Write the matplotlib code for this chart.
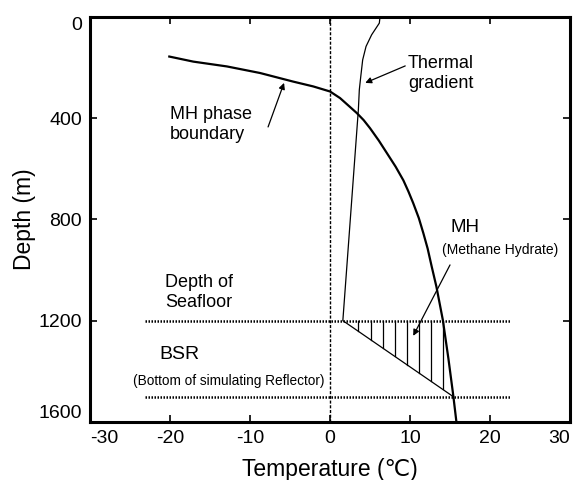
import numpy as np
import matplotlib.pyplot as plt

plt.rcParams['font.family'] = ['Liberation Sans', 'DejaVu Sans']
plt.rcParams['axes.unicode_minus'] = False

# MH phase boundary (temperature degC, depth m)
phase_temp = [-20.1, -17.1, -12.9, -8.75, -4.6, -2.1, 0.0, 1.25, 3.34, 4.2, 5.0, 6.1, 7.08,
              8.2, 9.17, 9.8, 10.4, 11.1, 11.67, 12.2, 12.7, 13.3, 14.1, 14.8, 15.4, 15.8]
phase_depth = [157, 177, 196, 222, 256, 275, 295, 321, 380, 408, 440, 489, 537,
               592, 646, 690, 736, 795, 855, 915, 985, 1066, 1197, 1350, 1494, 1600]

# thermal gradient in the water column, then through the sediment to the BSR
grad_temp = [6.25, 6.16, 5.2, 4.5, 4.08, 3.84, 3.66, 3.54, 2.16, 1.6, 15.4]
grad_depth = [0, 25, 71, 117, 170, 236, 288, 367, 960, 1200, 1500]

seafloor_depth = 1200
bsr_depth = 1500
line_span = [-23.2, 22.6]

# hatch inside the hydrate zone
hatch_temp = [3.5, 5.1, 6.6, 8.1, 9.6, 11.1, 12.6, 14.1]

xticks = [-30, -20, -10, 0, 10, 20, 30]
yticks = [0, 400, 800, 1200, 1600]

fig = plt.figure(figsize=(5.74, 4.8), dpi=100)
ax = fig.add_axes([0.157, 0.121, 0.836, 0.844])

ax.axvline(0, color='black', lw=1.0, ls=(0, (2.2, 1.2)))
ax.plot(line_span, [seafloor_depth] * 2, color='black', lw=1.8, ls=(0, (0.6, 0.6)))
ax.plot(line_span, [bsr_depth] * 2, color='black', lw=1.8, ls=(0, (0.6, 0.6)))

ax.plot(phase_temp, phase_depth, color='black', lw=1.6)
ax.plot(grad_temp, grad_depth, color='black', lw=0.9)

# vertical hatch lines from seafloor down to the slanted gradient segment
seg_t = grad_temp[-2:]
seg_d = grad_depth[-2:]
for t in hatch_temp:
    d = np.interp(t, seg_t, seg_d)
    ax.plot([t, t], [seafloor_depth, d], color='black', lw=0.9)

arrow = dict(arrowstyle='-|>', color='black', lw=0.9, mutation_scale=9,
             shrinkA=0, shrinkB=0)
ax.annotate('', xy=(-5.75, 261), xytext=(-7.75, 435), arrowprops=arrow)
ax.annotate('', xy=(4.4, 261), xytext=(9.4, 194), arrowprops=arrow)
ax.annotate('', xy=(10.4, 1260), xytext=(15.0, 980), arrowprops=arrow)

ax.text(-20, 425, 'MH phase\nboundary', fontsize=13, va='center', ha='left', linespacing=1.25)
ax.text(9.75, 225, 'Thermal\ngradient', fontsize=13, va='center', ha='left', linespacing=1.25)
ax.text(15.0, 834, 'MH', fontsize=13.5, va='center', ha='left')
ax.text(14.0, 922, '(Methane Hydrate)', fontsize=10, va='center', ha='left')
ax.text(-20.6, 1089, 'Depth of\nSeafloor', fontsize=13, va='center', ha='left', linespacing=1.25)
ax.text(-21.4, 1335, 'BSR', fontsize=14, va='center', ha='left')
ax.text(-24.6, 1438, '(Bottom of simulating Reflector)', fontsize=9.8, va='center', ha='left')

ax.set_xlim(-30, 30)
ax.set_ylim(1600, 0)
ax.set_xticks(xticks)
ax.set_yticks(yticks)
ax.tick_params(direction='in', length=5, width=1.2, labelsize=14,
               top=True, right=True, pad=6)
xlabs = ax.get_xticklabels()
xlabs[0].set_ha('left')
xlabs[-1].set_ha('right')
for lab in ax.get_yticklabels():
    if lab.get_text() == '0':
        lab.set_va('top')
    elif lab.get_text() == '1600':
        lab.set_va('bottom')
for s in ax.spines.values():
    s.set_linewidth(2.2)

ax.set_xlabel('Temperature (\u2103)', fontsize=16.5, labelpad=8)
ax.set_ylabel('Depth (m)', fontsize=16.5, labelpad=2)

fig.savefig('out.png', dpi=100)
